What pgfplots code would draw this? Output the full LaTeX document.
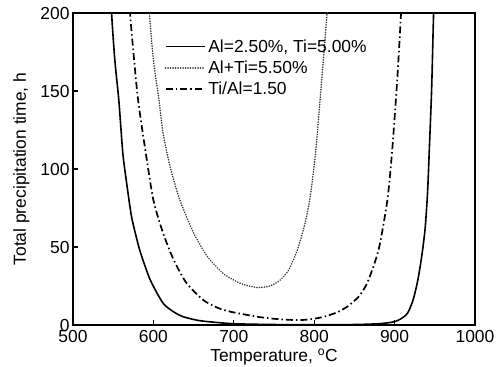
\documentclass[border=0pt]{standalone}
\usepackage{fontspec}
\setmainfont{Liberation Sans}
\usepackage{pgfplots}
\pgfplotsset{compat=1.18}
\pgfplotsset{mylegend/.style={legend image code/.code={\draw[##1] (0bp,0bp) -- (39bp,0bp);}}}
\begin{document}
\begin{tikzpicture}
\begin{axis}[
  scale only axis,
  width=402bp, height=312bp,
  xmin=500, xmax=1000, ymin=0, ymax=200,
  xtick={500,600,...,1000}, ytick={0,50,...,200},
  tick align=inside, xtick pos=bottom, ytick pos=left,
  major tick length=5bp,
  axis line style={line width=1.5bp},
  tick style={line width=1.2bp, black},
  font=\fontsize{17.5}{20}\selectfont,
  /pgf/number format/assume math mode=true,
  /pgf/number format/1000 sep={},
  xticklabel style={yshift=-2bp},
  xlabel={Temperature, \textsuperscript{o}C},
  ylabel={Total precipitation time, h},
  xlabel style={yshift=1bp},
  ylabel style={yshift=4bp},
  clip=true,
  legend style={at={(0.225,0.925)}, anchor=north west, draw=none, fill=none,
    font=\fontsize{17.5}{20}\selectfont, row sep=3bp, inner sep=1bp,
    nodes={inner xsep=3bp}},
  legend cell align=left,
]
\addplot[black, line width=1.6bp, smooth, tension=0.4, mylegend] coordinates {
(546,230) (548,200) (552,170) (557,144) (562,110) (567,90) (573,69) (583,48) (596,29) (612,14) (625,8.5) (637,5.3) (655,3) (671,2) (700,0.8) (750,0.3) (800,0.2) (850,0.3) (880,0.8) (899,2) (908,4) (916,7.5) (923,16) (929,29) (934,45) (938,62) (941,85) (943,110) (946,150) (948,190) (950,230)
};
\addlegendentry{Al=2.50\%, Ti=5.00\%}
\addplot[black!80, line width=1.7bp, line cap=round, dash pattern=on 0.1bp off 2.4bp, smooth, tension=0.4, mylegend] coordinates {
(592,230) (595,200) (600,170) (607,144) (612,123) (621,101) (633,80) (650,59) (667,44) (687,33) (708,26.7) (729,24) (745,25) (757,28.5) (768,35) (779,48) (788,64) (795,82) (802,112) (809,155) (816,200) (819,230)
};
\addlegendentry{Al+Ti=5.50\%}
\addplot[black, line width=1.7bp, dash pattern=on 7bp off 3bp on 1.5bp off 3bp, smooth, tension=0.4, mylegend] coordinates {
(569,230) (571,200) (576,170) (581,144) (590,112) (600,80) (612,59) (625,42) (641,27) (662,16) (680,11) (696,8.5) (729,5.3) (750,4) (770,3.3) (785,3.2) (800,4) (812,5.3) (828,8) (841,11.7) (855,18) (866,27) (880,48) (891,80) (897,112) (903,155) (908,200) (910,230)
};
\addlegendentry{Ti/Al=1.50}
\end{axis}
\pgfresetboundingbox
\path (current axis.south west) ++(-73bp,-42bp) coordinate (bbsw);
\path (current axis.north east) ++(21bp,13bp) coordinate (bbne);
\path (bbsw) rectangle (bbne);
\end{tikzpicture}
\end{document}
